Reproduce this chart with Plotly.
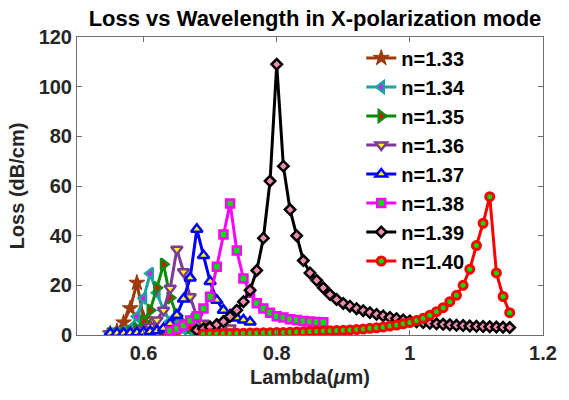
import plotly.graph_objects as go

# Wavelength samples (um) for each refractive index
lam_133 = [0.55, 0.56, 0.57, 0.58, 0.59, 0.60, 0.61, 0.62, 0.63, 0.64, 0.65]
loss_133 = [0.6, 1.5, 5.0, 10.7, 21.0, 6.5, 3.5, 2.2, 1.6, 1.2, 1.0]

lam_134 = [0.55, 0.56, 0.57, 0.58, 0.59, 0.60, 0.61, 0.62, 0.63, 0.64, 0.65, 0.66, 0.67, 0.68]
loss_134 = [0.5, 0.7, 1.2, 2.5, 7.4, 14.8, 24.8, 17.0, 10.0, 5.5, 3.5, 2.5, 2.0, 1.6]

lam_135 = [0.55, 0.56, 0.57, 0.58, 0.59, 0.60, 0.61, 0.62, 0.63, 0.64, 0.65, 0.66, 0.67, 0.68, 0.69, 0.70]
loss_135 = [0.5, 0.6, 0.8, 1.2, 2.5, 5.5, 10.0, 19.0, 28.5, 15.0, 8.0, 4.5, 3.0, 2.2, 1.8, 1.5]

lam_136 = [0.55, 0.56, 0.57, 0.58, 0.59, 0.60, 0.61, 0.62, 0.63, 0.64, 0.65, 0.66, 0.67,
           0.68, 0.69, 0.70, 0.71, 0.72, 0.73]
loss_136 = [0.5, 0.6, 0.7, 0.9, 1.3, 2.2, 3.4, 6.0, 10.0, 18.8, 34.5, 25.5, 15.4,
            7.4, 4.7, 3.6, 3.2, 3.0, 2.8]

lam_137 = [0.55, 0.56, 0.57, 0.58, 0.59, 0.60, 0.61, 0.62, 0.63, 0.64, 0.65, 0.66, 0.67,
           0.68, 0.69, 0.70, 0.71, 0.72, 0.73, 0.74, 0.75, 0.76]
loss_137 = [0.7, 0.7, 0.7, 0.8, 0.9, 1.1, 1.4, 1.7, 2.6, 4.5, 8.0, 14.5, 23.0,
            42.6, 32.0, 21.5, 14.0, 10.0, 8.0, 6.8, 6.0, 5.2]

lam_138 = [0.64, 0.65, 0.66, 0.67, 0.68, 0.69, 0.70, 0.71, 0.72, 0.73, 0.74, 0.75, 0.76,
           0.77, 0.78, 0.79, 0.80, 0.81, 0.82, 0.83, 0.84, 0.85, 0.86, 0.87]
loss_138 = [1.6, 2.5, 3.8, 5.8, 7.6, 10.7, 15.4, 27.5, 40.5, 53.0, 34.0, 22.8, 17.0,
            12.8, 10.7, 9.0, 7.6, 7.0, 6.3, 6.0, 5.6, 5.4, 5.2, 5.1]

lam_139 = [0.68, 0.69, 0.70, 0.71, 0.72, 0.73, 0.74, 0.75, 0.76, 0.77, 0.78, 0.79, 0.80,
           0.81, 0.82, 0.83, 0.84, 0.85, 0.86, 0.87, 0.88, 0.89, 0.90, 0.91, 0.92, 0.93,
           0.94, 0.95, 0.96, 0.97, 0.98, 0.99, 1.00, 1.01, 1.02, 1.03, 1.04, 1.05, 1.06,
           1.07, 1.08, 1.09, 1.10, 1.11, 1.12, 1.13, 1.14, 1.15]
loss_139 = [2.0, 2.5, 3.2, 4.2, 5.4, 7.4, 10.0, 13.4, 18.0, 26.0, 39.0, 62.0, 109.0,
            68.0, 50.5, 40.0, 30.0, 25.0, 22.0, 19.0, 16.3, 14.3, 12.7, 11.6, 10.6, 9.8,
            9.0, 8.3, 7.7, 7.1, 6.6, 6.1, 5.7, 5.3, 5.0, 4.7, 4.5, 4.3, 4.1,
            3.9, 3.8, 3.6, 3.5, 3.4, 3.3, 3.2, 3.1, 3.0]

lam_140 = [0.69, 0.70, 0.71, 0.72, 0.73, 0.74, 0.75, 0.76, 0.77, 0.78, 0.79, 0.80, 0.81,
           0.82, 0.83, 0.84, 0.85, 0.86, 0.87, 0.88, 0.89, 0.90, 0.91, 0.92, 0.93, 0.94,
           0.95, 0.96, 0.97, 0.98, 0.99, 1.00, 1.01, 1.02, 1.03, 1.04, 1.05, 1.06, 1.07,
           1.08, 1.09, 1.10, 1.11, 1.12, 1.13, 1.14, 1.15]
loss_140 = [0.4, 0.5, 0.55, 0.6, 0.65, 0.7, 0.75, 0.8, 0.85, 0.9, 0.95, 1.0, 1.05,
            1.1, 1.2, 1.3, 1.4, 1.5, 1.6, 1.7, 1.8, 1.9, 2.0, 2.2, 2.4, 2.7,
            2.9, 3.2, 3.6, 4.0, 4.5, 5.0, 5.8, 6.7, 8.0, 9.4, 11.0, 13.4, 16.0,
            20.0, 26.5, 36.0, 45.0, 55.7, 25.0, 15.5, 9.0]

legend_names = ["n=1.33", "n=1.34", "n=1.35", "n=1.36", "n=1.37", "n=1.38", "n=1.39", "n=1.40"]
x_ticks = [0.6, 0.8, 1.0, 1.2]
x_tick_text = ["0.6", "0.8", "1", "1.2"]
y_ticks = [0, 20, 40, 60, 80, 100, 120]

series = [
    (lam_133, loss_133, "#9C3A0A", "#9C3A0A", "star", 12, 1.0),
    (lam_134, loss_134, "#1AA3A3", "#FF00FF", "triangle-left", 10, 2.5),
    (lam_135, loss_135, "#0A8A0A", "#FF0000", "triangle-right", 10, 2.5),
    (lam_136, loss_136, "#7E3A96", "#FFFF00", "triangle-down", 10, 2.5),
    (lam_137, loss_137, "#0000FF", "#FFFF00", "triangle-up", 10, 2.5),
    (lam_138, loss_138, "#FF00FF", "#00E000", "square", 8, 2.5),
    (lam_139, loss_139, "#000000", "#F08CB4", "diamond", 8, 2.5),
    (lam_140, loss_140, "#FF0000", "#00E000", "circle", 8, 3.0),
]

font_family = "Liberation Sans, Arial, sans-serif"

fig = go.Figure()
for (xs, ys, col, fill, sym, msize, mlw), name in zip(series, legend_names):
    fig.add_trace(go.Scatter(
        x=xs, y=ys, name=name, mode="lines+markers",
        legendgroup=name,
        line=dict(color=col, width=3),
        marker=dict(symbol=sym, size=msize, color=fill,
                    line=dict(color=col, width=mlw)),
    ))

axis_common = dict(
    showline=True, linecolor="#6e6e6e", linewidth=1, mirror="ticks",
    ticks="inside", ticklen=5, tickcolor="#6e6e6e", showgrid=False, zeroline=False,
    tickfont=dict(family=font_family, size=20, color="#262626", weight="bold"),
)

fig.update_layout(
    width=569, height=400,
    margin=dict(l=77, r=16, t=37, b=65),
    paper_bgcolor="white", plot_bgcolor="white",
    title=dict(text="Loss vs Wavelength in X-polarization mode",
               x=(77 + 553) / 2 / 569, xanchor="center", y=1 - 18 / 400, yanchor="middle",
               font=dict(family=font_family, size=22, color="black", weight="bold")),
    xaxis=dict(range=[0.5, 1.2], tickvals=x_ticks, ticktext=x_tick_text,
               title=dict(text="Lambda(<i>μ</i>m)", standoff=6,
                          font=dict(family=font_family, size=20, color="#262626", weight="bold")),
               **axis_common),
    yaxis=dict(range=[0, 120], tickvals=y_ticks,
               title=dict(text="Loss (dB/cm)", standoff=8,
                          font=dict(family=font_family, size=20, color="#262626", weight="bold")),
               **axis_common),
    legend=dict(x=0.61, y=0.995, xanchor="left", yanchor="top",
                bgcolor="rgba(0,0,0,0)", borderwidth=0, tracegroupgap=0,
                font=dict(family=font_family, size=20, color="black", weight="bold")),
    showlegend=True,
)

fig.write_html("out.html")
